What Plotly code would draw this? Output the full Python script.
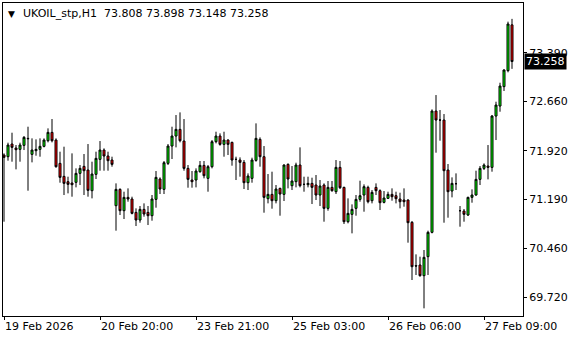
import plotly.graph_objects as go

# OHLC data (H1 bars, oldest -> newest)
OPEN = [71.855, 71.830, 72.020, 71.960, 71.940, 72.000, 72.105, 71.865, 71.920, 71.940,
        71.985, 72.070, 72.195, 72.080, 71.730, 71.535, 71.455, 71.435, 71.445, 71.580,
        71.685, 71.630, 71.320, 71.565, 71.790, 71.930, 71.840, 71.780, 71.095, 71.340,
        71.020, 71.220, 71.195, 70.995, 70.880, 71.040, 70.995, 70.945, 71.190, 71.495,
        71.340, 71.730, 71.990, 72.140, 72.240, 72.065, 71.655, 71.480, 71.480, 71.605,
        71.700, 71.505, 71.680, 72.055, 72.140, 72.015, 72.080, 72.045, 71.790, 71.780,
        71.745, 71.440, 71.505, 71.775, 72.090, 71.830, 71.200, 71.265, 71.170, 71.355,
        71.265, 71.715, 71.395, 71.455, 71.705, 71.415, 71.410, 71.430, 71.405, 71.255,
        71.405, 71.055, 71.370, 71.305, 71.670, 71.370, 70.855, 70.965, 71.055, 71.190,
        71.255, 71.370, 71.170, 71.370, 71.320, 71.145, 71.205, 71.265, 71.245, 71.195,
        71.180, 71.180, 70.845, 70.195, 70.205, 70.045, 70.330, 70.695, 72.515, 72.380,
        72.380, 71.630, 71.315, 71.425, 71.020, 71.015, 70.955, 71.220, 71.255, 71.490,
        71.655, 71.690, 71.670, 72.440, 72.590, 72.881, 73.121, 73.808]
HIGH = [71.880, 72.040, 72.190, 72.005, 72.040, 72.140, 72.280, 72.105, 72.090, 72.105,
        72.105, 72.255, 72.395, 72.105, 71.905, 71.980, 71.530, 71.880, 71.655, 71.705,
        71.870, 72.020, 71.755, 71.905, 72.065, 71.955, 71.905, 71.830, 71.430, 71.355,
        71.305, 71.355, 71.230, 71.055, 71.090, 71.130, 71.090, 71.255, 71.615, 71.520,
        71.765, 72.020, 72.280, 72.455, 72.495, 72.395, 71.705, 71.615, 71.655, 71.765,
        71.765, 71.705, 72.080, 72.205, 72.180, 72.205, 72.090, 72.055, 71.830, 71.820,
        71.780, 71.580, 71.815, 72.330, 72.120, 71.990, 71.570, 71.605, 71.405, 71.365,
        71.715, 71.730, 71.690, 71.740, 71.970, 71.530, 71.530, 71.515, 71.555, 71.480,
        71.430, 71.465, 71.465, 71.780, 71.765, 71.380, 71.205, 71.115, 71.255, 71.470,
        71.415, 71.395, 71.330, 71.430, 71.340, 71.315, 71.305, 71.355, 71.305, 71.290,
        71.355, 71.190, 70.865, 70.365, 70.330, 70.430, 70.720, 72.540, 72.755, 72.530,
        72.470, 71.720, 71.520, 71.580, 71.090, 71.045, 71.230, 71.340, 71.620, 71.690,
        71.730, 72.005, 72.455, 72.655, 72.940, 73.141, 73.856, 73.898]
LOW = [70.855, 71.770, 71.755, 71.640, 71.755, 71.930, 71.320, 71.745, 71.845, 71.830,
       71.970, 72.045, 72.045, 71.665, 71.440, 71.255, 71.280, 71.230, 71.370, 71.405,
       71.255, 71.230, 71.205, 71.495, 71.620, 71.620, 71.620, 71.680, 70.720, 70.955,
       70.895, 71.155, 70.965, 70.790, 70.840, 70.930, 70.805, 70.870, 71.065, 71.270,
       71.270, 71.705, 71.795, 71.970, 72.045, 71.620, 71.365, 71.365, 71.370, 71.590,
       71.505, 71.305, 71.655, 72.030, 71.995, 71.830, 71.855, 71.695, 71.480, 71.530,
       71.345, 71.330, 71.440, 71.755, 71.680, 70.990, 71.130, 71.050, 71.130, 70.945,
       71.165, 71.355, 71.330, 71.370, 71.370, 71.305, 71.370, 71.120, 71.180, 71.090,
       70.855, 71.020, 71.305, 71.270, 71.345, 70.820, 70.830, 70.680, 70.945, 71.155,
       71.005, 71.130, 71.130, 71.255, 71.030, 71.130, 71.195, 71.170, 71.130, 71.055,
       71.080, 70.540, 69.980, 70.055, 70.030, 69.555, 70.055, 70.680, 71.890, 72.070,
       70.840, 70.915, 71.220, 71.330, 70.780, 70.855, 70.940, 71.140, 71.245, 71.405,
       71.630, 71.490, 71.605, 72.080, 72.505, 72.816, 73.096, 73.148]
CLOSE = [71.820, 72.005, 71.970, 71.935, 72.005, 72.120, 72.100, 71.930, 71.940, 71.985,
         72.080, 72.195, 72.070, 71.680, 71.520, 71.430, 71.415, 71.410, 71.580, 71.655,
         71.620, 71.325, 71.570, 71.805, 71.930, 71.840, 71.770, 71.715, 71.340, 71.020,
         71.220, 71.195, 70.980, 70.880, 71.040, 70.970, 70.945, 71.195, 71.520, 71.345,
         71.740, 71.990, 72.140, 72.240, 72.070, 71.655, 71.490, 71.455, 71.615, 71.700,
         71.545, 71.680, 72.055, 72.140, 72.015, 72.080, 72.015, 71.780, 71.790, 71.745,
         71.440, 71.540, 71.780, 72.105, 71.830, 71.220, 71.265, 71.170, 71.345, 71.270,
         71.705, 71.495, 71.465, 71.705, 71.395, 71.415, 71.430, 71.370, 71.255, 71.390,
         71.055, 71.370, 71.320, 71.670, 71.365, 70.855, 70.980, 71.040, 71.190, 71.245,
         71.380, 71.155, 71.295, 71.320, 71.140, 71.210, 71.265, 71.230, 71.200, 71.155,
         71.155, 70.840, 70.180, 70.190, 70.045, 70.320, 70.695, 72.515, 72.380, 72.380,
         71.620, 71.305, 71.430, 71.425, 71.020, 70.965, 71.220, 71.255, 71.490, 71.655,
         71.705, 71.670, 72.440, 72.605, 72.890, 73.131, 73.821, 73.258]

PRICE_TICKS = [69.720, 70.460, 71.190, 71.920, 72.660, 73.390]
DATE_TICK_IDX = [0, 24, 48, 72, 96, 120]
DATE_TICK_LABELS = ["19 Feb 2026", "20 Feb 20:00", "23 Feb 21:00",
                    "25 Feb 03:00", "26 Feb 06:00", "27 Feb 09:00"]
SYMBOL = "UKOIL_stp,H1"
LAST_PRICE = CLOSE[-1]

FONT = "DejaVu Sans"
idx = list(range(len(OPEN)))

fig = go.Figure(go.Candlestick(
    x=idx, open=OPEN, high=HIGH, low=LOW, close=CLOSE,
    increasing=dict(line=dict(color="black", width=1), fillcolor="#00FF00"),
    decreasing=dict(line=dict(color="black", width=1), fillcolor="#FF0000"),
    whiskerwidth=0, hoverinfo="skip",
))

fig.update_layout(
    width=580, height=340,
    margin=dict(l=3, r=57, t=3, b=24),
    paper_bgcolor="white", plot_bgcolor="white",
    showlegend=False,
    boxgap=0.5, boxgroupgap=0,
    font=dict(family=FONT, size=11, color="black"),
    xaxis=dict(
        range=[-0.25, 129.75], rangeslider=dict(visible=False),
        showgrid=False, zeroline=False,
        showline=True, linecolor="black", linewidth=1, mirror=True,
        ticks="outside", ticklen=3, tickcolor="black",
        tickvals=DATE_TICK_IDX, ticktext=DATE_TICK_LABELS,
        ticklabelposition="outside right",
        tickfont=dict(family=FONT, size=11, color="black"),
    ),
    yaxis=dict(
        side="right", range=[69.44, 74.136],
        showgrid=False, zeroline=False,
        showline=True, linecolor="black", linewidth=1, mirror=True,
        ticks="outside", ticklen=3, tickcolor="black",
        tickvals=PRICE_TICKS, ticktext=[f"{v:.3f}" for v in PRICE_TICKS],
        tickfont=dict(family=FONT, size=11, color="black"),
    ),
)

ohlc_txt = " ".join(f"{v:.3f}" for v in (OPEN[-1], HIGH[-1], LOW[-1], CLOSE[-1]))
fig.add_annotation(x=0, y=1, xref="paper", yref="paper", xanchor="left", yanchor="top",
                   xshift=3, yshift=-4, text="▼", showarrow=False,
                   font=dict(family=FONT, size=9, color="black"))
fig.add_annotation(x=0, y=1, xref="paper", yref="paper", xanchor="left", yanchor="top",
                   xshift=18, yshift=-2, text=SYMBOL + "\u00a0\u00a0" + ohlc_txt,
                   showarrow=False, font=dict(family=FONT, size=11, color="black"))
fig.add_annotation(x=1, y=LAST_PRICE, xref="paper", yref="y", xanchor="left", yanchor="middle",
                   xshift=1, text=f"{LAST_PRICE:.3f}", showarrow=False,
                   bgcolor="black", borderpad=1,
                   font=dict(family=FONT, size=11, color="white"))

fig.write_html("out.html")
